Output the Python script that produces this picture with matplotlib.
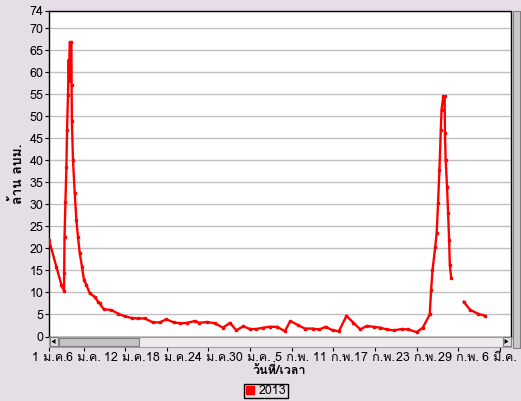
import numpy as np
import matplotlib
matplotlib.use('Agg')
import matplotlib.pyplot as plt
from matplotlib import font_manager
from matplotlib.ft2font import FT2Font
from matplotlib.lines import Line2D
from matplotlib.patches import Rectangle, Polygon

# days counted from 1 Jan, values in million m3; nan = gap in record
days = [0.0, 1.07, 1.79, 2.16, 2.19, 2.24, 2.37, 2.51, 2.6, 2.74, 2.84, 2.91, 2.96, 2.99,
        3.23, 3.26, 3.3, 3.46, 3.71, 3.95, 4.18, 4.43, 4.76, 5.05, 5.4, 5.87, 6.6, 7.07,
        7.3, 7.9, 9.0, 9.96, 10.9, 11.9, 12.8, 13.8, 15.0, 16.0, 16.9, 18.0, 18.9, 19.9,
        21.0, 21.7, 22.8, 23.9, 25.1, 26.1, 27.0, 28.0, 29.0, 29.9, 30.9, 31.8, 32.9,
        34.0, 34.8, 35.9, 36.9, 38.0, 39.0, 39.9, 40.9, 41.8, 42.9, 43.9, 44.9, 45.8,
        46.8, 47.8, 48.7, 49.7, 50.9, 51.8, 53.0, 53.9, 54.9, 55.1, 55.3, 55.7, 55.9,
        56.1, 56.3, 56.5, 56.6, 56.86, 57.05, 57.1, 57.2, 57.4, 57.55, 57.7, 57.8, 58.0,
        59.0, 59.8, 60.7, 61.8, 62.9]
vol_2013 = [21.9, 15.8, 11.7, 10.4, 14.5, 22.6, 30.6, 38.5, 46.9, 54.8, 62.8, 58.0, 64.0, 66.8,
            66.8, 57.0, 49.0, 40.0, 32.5, 26.4, 22.6, 18.9, 15.8, 12.8, 11.7, 9.8, 9.0, 7.9,
            7.5, 6.2, 6.0, 5.2, 4.6, 4.2, 4.1, 4.1, 3.2, 3.2, 3.9, 3.2, 3.0, 3.1,
            3.5, 3.1, 3.3, 3.0, 2.0, 3.1, 1.4, 2.3, 1.7, 1.7, 2.0, 2.2, 2.2,
            1.2, 3.5, 2.6, 1.8, 1.8, 1.6, 2.2, 1.4, 1.2, 4.7, 3.1, 1.6, 2.4,
            2.2, 2.0, 1.6, 1.4, 1.7, 1.6, 1.0, 2.0, 5.0, 10.5, 15.0, 20.4, 23.4,
            30.2, 37.8, 46.9, 51.4, 54.5, 54.5, 46.1, 40.0, 34.0, 28.0, 21.9, 16.2, 13.2,
            np.nan, 7.9, 6.1, 5.2, 4.7]

tick_days = [0, 5, 11, 17, 23, 29, 35, 41, 47, 53, 59, 65]
tick_labels = ['1 ม.ค.', '6 ม.ค.', '12 ม.ค.', '18 ม.ค.', '24 ม.ค.', '30 ม.ค.',
               '5 ก.พ.', '11 ก.พ.', '17 ก.พ.', '23 ก.พ.', '29 ก.พ.', '6 มี.ค.']
y_ticks = [0, 5, 10, 15, 20, 25, 30, 35, 40, 45, 50, 55, 60, 65, 70, 74]
series_name = '2013'

W, H = 521, 401
BG = '#E6DEE6'


def thai_font():
    # pick any installed font that has Thai glyphs
    for f in font_manager.fontManager.ttflist:
        try:
            if 0x0E21 in FT2Font(f.fname).get_charmap():
                return f.name
        except Exception:
            pass
    return 'DejaVu Sans'


def fx(px):
    return px / W


def fy(py):
    return 1 - py / H


thai = thai_font()
plt.rcParams['font.family'] = [thai, 'DejaVu Sans']

fig = plt.figure(figsize=(W / 100, H / 100), dpi=100, facecolor=BG)
ax = fig.add_axes([fx(49), fy(336.5), fx(510.5 - 49), (336.5 - 10.5) / H])
ax.set_facecolor('white')

ax.plot(days, vol_2013, color='red', lw=1.7, marker='s', ms=1.8, mec='red', zorder=3)

ax.set_xlim(0, 66.55)
ax.set_ylim(0, 74)
ax.set_yticks(y_ticks)
ax.set_xticks(tick_days)
ax.set_xticklabels(tick_labels)
ax.grid(axis='y', color='#C0C0C0', lw=1)
ax.set_axisbelow(True)

for s in ['top', 'right', 'left']:
    ax.spines[s].set_color('black')
    ax.spines[s].set_linewidth(1)
ax.spines['bottom'].set_position(('outward', 7.5))
ax.spines['bottom'].set_visible(False)
ax.axhline(0, color='black', lw=1, clip_on=False, zorder=4)

ax.tick_params(axis='y', direction='out', length=3, pad=1, labelsize=9)
ax.tick_params(axis='x', direction='out', length=3, pad=1, labelsize=9)

ax.set_xlabel('วันที่/เวลา', fontsize=9, fontweight='bold', labelpad=0)
ax.set_ylabel('ล้าน ลบม.', fontsize=10, fontweight='bold', labelpad=3)

# horizontal scrollbar under the plot
fig.patches.append(Rectangle((fx(49), fy(346.5)), fx(462), 10 / H, transform=fig.transFigure,
                             facecolor='#EEEAEE', edgecolor='#A0A0A0', lw=0.8))
fig.patches.append(Rectangle((fx(59), fy(345.5)), fx(80), 8 / H, transform=fig.transFigure,
                             facecolor='#C4C4C4', edgecolor='#808080', lw=0.8))
for x0 in [49.5, 502.5]:
    fig.patches.append(Rectangle((fx(x0), fy(346)), fx(8), 9 / H, transform=fig.transFigure,
                                 facecolor='#E0E0E0', edgecolor='#808080', lw=0.8))
fig.patches.append(Polygon([(fx(51.5), fy(341.5)), (fx(55.5), fy(339)), (fx(55.5), fy(344))],
                           transform=fig.transFigure, facecolor='black', edgecolor='none'))
fig.patches.append(Polygon([(fx(508.5), fy(341.5)), (fx(504.5), fy(339)), (fx(504.5), fy(344))],
                           transform=fig.transFigure, facecolor='black', edgecolor='none'))

# vertical scrollbar at the right edge
fig.patches.append(Rectangle((fx(513), fy(348)), fx(7), (348 - 11) / H, transform=fig.transFigure,
                             facecolor='#C8C8C8', edgecolor='#808080', lw=0.8))

handle = Line2D([], [], color='red', marker='s', ms=6, linestyle='none')
leg = fig.legend([handle], [series_name], loc='center', bbox_to_anchor=(fx(266), fy(391)),
                 fontsize=9, frameon=True, fancybox=False, edgecolor='black',
                 facecolor=BG, framealpha=1, handlelength=0.8, handletextpad=0.3,
                 borderpad=0.1, borderaxespad=0)
leg.get_frame().set_linewidth(1)

fig.savefig('out.png', dpi=100, facecolor=BG)
